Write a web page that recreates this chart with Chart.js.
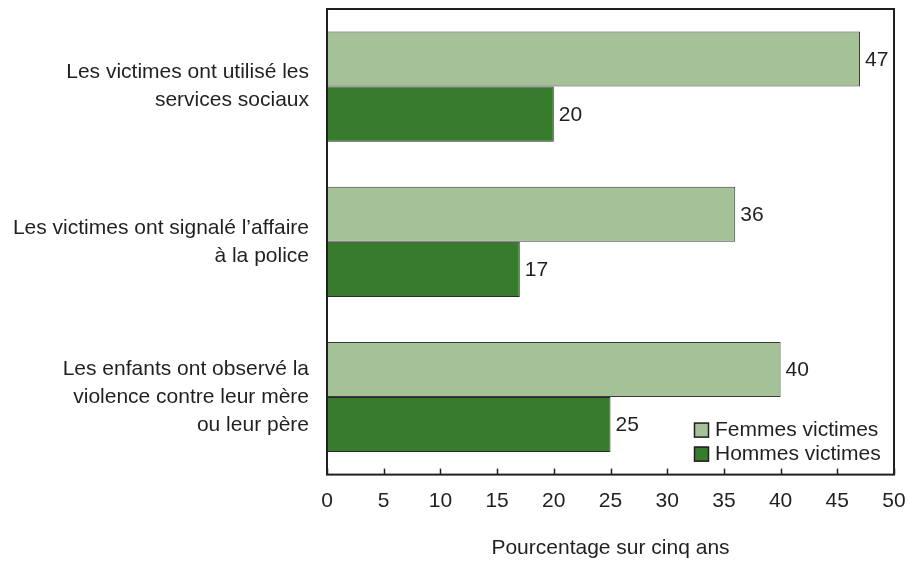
<!DOCTYPE html>
<html>
<head>
<meta charset="utf-8">
<script src="https://cdn.jsdelivr.net/npm/chart.js@4/dist/chart.umd.min.js"></script>
<style>
  html, body { margin: 0; padding: 0; background: #fff; }
  #wrap { width: 909px; height: 564px; }
</style>
</head>
<body>
<div id="wrap"><canvas id="myChart" width="909" height="564"></canvas></div>
<script>
// data
const categories = [
  ['Les victimes ont utilisé les', 'services sociaux'],
  ['Les victimes ont signalé l\u2019affaire', 'à la police'],
  ['Les enfants ont observé la', 'violence contre leur mère', 'ou leur père']
]
const femmes = [47, 36, 40]
const hommes = [20, 17, 25]
const xTicks = [0, 5, 10, 15, 20, 25, 30, 35, 40, 45, 50]

const font = 'Liberation Sans, Arial, Helvetica, sans-serif'
const fsize = 21
const ink = '#231f20'

// frame box + inward ticks
const framePlugin = {
  id: 'frame',
  afterDraw(chart) {
    const ctx = chart.ctx
    const a = chart.chartArea
    const xs = chart.scales.x
    ctx.save()
    ctx.strokeStyle = ink
    ctx.lineWidth = 2
    ctx.strokeRect(a.left, a.top, a.right - a.left, a.bottom - a.top)
    ctx.lineWidth = 1.5
    for (let v of xTicks) {
      let px = Math.round(xs.getPixelForValue(v)) + 0.5
      ctx.beginPath()
      ctx.moveTo(px, a.bottom)
      ctx.lineTo(px, a.bottom - 6)
      ctx.stroke()
    }
    ctx.restore()
  }
}

// value labels at bar ends
const valuePlugin = {
  id: 'values',
  afterDatasetsDraw(chart) {
    const ctx = chart.ctx
    ctx.save()
    ctx.font = fsize + 'px ' + font
    ctx.fillStyle = ink
    ctx.textAlign = 'left'
    ctx.textBaseline = 'middle'
    chart.data.datasets.forEach((ds, i) => {
      chart.getDatasetMeta(i).data.forEach((bar, j) => {
        ctx.fillText(ds.data[j], bar.x + 5, bar.y + 1)
      })
    })
    ctx.restore()
  }
}

// legend inside plot, lower right
const legendPlugin = {
  id: 'innerLegend',
  afterDraw(chart) {
    const ctx = chart.ctx
    const a = chart.chartArea
    let x = a.right - 200
    let y = a.bottom - 45
    ctx.save()
    ctx.font = fsize + 'px ' + font
    ctx.textBaseline = 'middle'
    chart.data.datasets.forEach((ds, i) => {
      let cy = y + i * 24
      ctx.fillStyle = ds.backgroundColor
      ctx.fillRect(x, cy - 7, 15, 15)
      ctx.strokeStyle = ink
      ctx.lineWidth = 1.5
      ctx.strokeRect(x + 0.5, cy - 6.5, 14, 14)
      ctx.fillStyle = ink
      ctx.fillText(ds.label, x + 21, cy + 1)
    })
    ctx.restore()
  }
}

let ctx = document.getElementById('myChart').getContext('2d')
let myChart = new Chart(ctx, {
  type: 'bar',
  data: {
    labels: categories,
    datasets: [{
      label: 'Femmes victimes',
      backgroundColor: '#a5c198',
      borderColor: '#3a3a3a',
      borderWidth: 1,
      data: femmes
    }, {
      label: 'Hommes victimes',
      backgroundColor: '#377c2c',
      borderColor: '#2a2a2a',
      borderWidth: 1,
      data: hommes
    }]
  },
  options: {
    indexAxis: 'y',
    responsive: false,
    animation: false,
    layout: { padding: { left: 0, right: 15, top: 9, bottom: 3 } },
    datasets: { bar: { categoryPercentage: 0.71, barPercentage: 1 } },
    plugins: {
      legend: { display: false },
      tooltip: { enabled: false }
    },
    scales: {
      x: {
        min: 0,
        max: 50,
        afterBuildTicks(scale) { scale.ticks = xTicks.map(v => ({ value: v })) },
        afterFit(scale) { scale.paddingLeft = 0; scale.paddingRight = 0 },
        grid: { display: false },
        border: { display: false },
        ticks: { color: ink, font: { family: font, size: fsize }, padding: 6, maxRotation: 0 },
        title: {
          display: true,
          text: 'Pourcentage sur cinq ans',
          color: ink,
          font: { family: font, size: fsize },
          padding: { top: 16, bottom: 0 }
        }
      },
      y: {
        grid: { display: false },
        border: { display: false },
        afterFit(scale) { scale.width = 327; scale.paddingTop = 0; scale.paddingBottom = 0 },
        ticks: { color: ink, font: { family: font, size: fsize, lineHeight: 1.33 }, padding: 10 }
      }
    }
  },
  plugins: [framePlugin, valuePlugin, legendPlugin]
})
</script>
</body>
</html>
